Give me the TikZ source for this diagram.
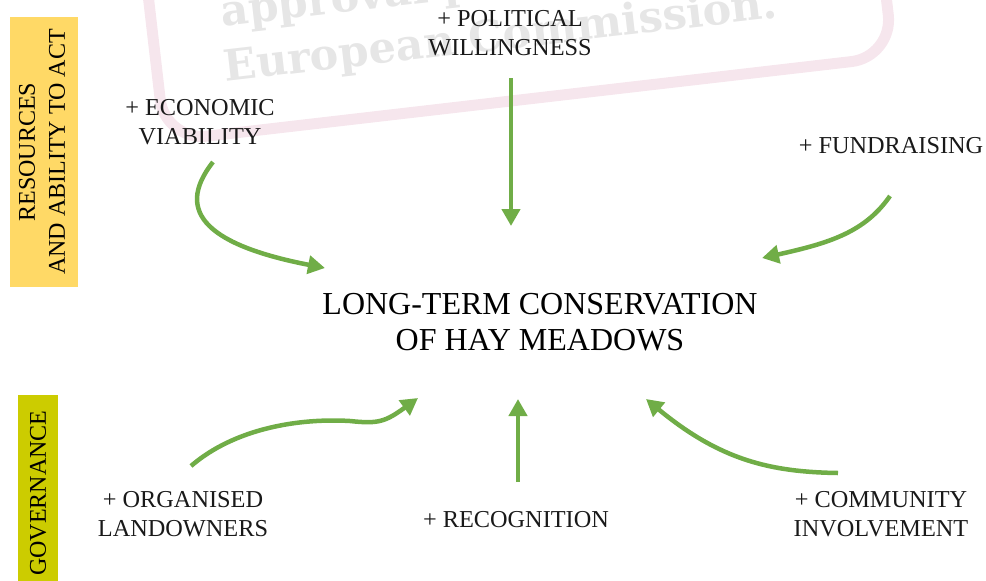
\documentclass[tikz,border=0pt]{standalone}
\usepackage{fontspec}
\setmainfont{Liberation Serif}
\newfontfamily\wmfont{DejaVu Serif}
\usetikzlibrary{arrows.meta}
\definecolor{arrgreen}{HTML}{70AD47}
\definecolor{resyellow}{HTML}{FFD966}
\definecolor{govolive}{HTML}{CCCC00}
\definecolor{wmpink}{RGB}{246,230,237}
\definecolor{wmgrey}{RGB}{230,230,230}
\begin{document}
\begin{tikzpicture}[x=1pt,y=-1pt,
  lbl/.style={align=center,font=\fontsize{24.3}{28.5}\selectfont,inner sep=0pt,text=black!90},
  title/.style={align=center,font=\fontsize{32}{36}\selectfont,inner sep=0pt,text=black},
  flow/.style={draw=arrgreen,line width=4.5pt,-{Triangle[length=17pt,width=18pt]}},
  bandbox/.style={rotate=90,inner sep=0pt,align=center,font=\fontsize{24}{30}\selectfont},
  wmtext/.style={text=wmgrey,anchor=base west,inner sep=0pt,transform shape,font=\wmfont\bfseries\fontsize{43}{43}\selectfont}]
\useasboundingbox (0,0) rectangle (986,581);
\clip (0,0) rectangle (986,581);
% watermark
\begin{scope}[shift={(165,141)},rotate=6.6]
  \draw[wmpink,line width=11pt,rounded corners=42pt] (0,0) rectangle (733,-320);
  \node[wmtext] (wmA) at (70,-107) {approval p};
  \node[wmtext] (wmB) at (67,-52) {European Commission.};
\end{scope}
% side bands
\node[bandbox,fill=resyellow,minimum width=270pt,minimum height=68pt] (resbox) at (44,152) {};
\node[bandbox] (restext) at (42,152) {RESOURCES\\AND ABILITY TO ACT};
\node[bandbox,fill=govolive,minimum width=200pt,minimum height=40pt] (govbox) at (38,495) {};
\node[bandbox] (govtext) at (38,493) {GOVERNANCE};
% central
\node[title] (main) at (540,322) {LONG-TERM CONSERVATION\\OF HAY MEADOWS};
% labels
\node[lbl] (pol) at (510,33) {+ POLITICAL\\WILLINGNESS};
\node[lbl] (eco) at (200,122) {+ ECONOMIC\\VIABILITY};
\node[lbl] (fund) at (891,146) {+ FUNDRAISING};
\node[lbl] (org) at (183,514) {+ ORGANISED\\LANDOWNERS};
\node[lbl] (rec) at (516,520) {+ RECOGNITION};
\node[lbl] (com) at (881,514) {+ COMMUNITY\\INVOLVEMENT};
% arrow ends
\coordinate (polS) at (511,78);  \coordinate (polE) at (511,226);
\coordinate (ecoS) at (213,162); \coordinate (ecoE) at (325,268);
\coordinate (fundS) at (890,196); \coordinate (fundE) at (762,258);
\coordinate (orgS) at (191,466); \coordinate (orgM) at (350,421); \coordinate (orgE) at (418,398);
\coordinate (recS) at (518,482); \coordinate (recE) at (518,399);
\coordinate (comS) at (838,473); \coordinate (comE) at (646,399);
% arrows
\draw[flow] (polS) -- (polE);
\draw[flow] (ecoS) .. controls (172,214) and (212,246) .. (ecoE);
\draw[flow] (fundS) .. controls (865,232) and (830,243) .. (fundE);
\draw[flow] (orgS) .. controls (235,428) and (300,418) .. (orgM) .. controls (378,424) and (385,422) .. (orgE);
\draw[flow] (recS) -- (recE);
\draw[flow] (comS) .. controls (770,472) and (720,460) .. (comE);
\end{tikzpicture}
\end{document}
